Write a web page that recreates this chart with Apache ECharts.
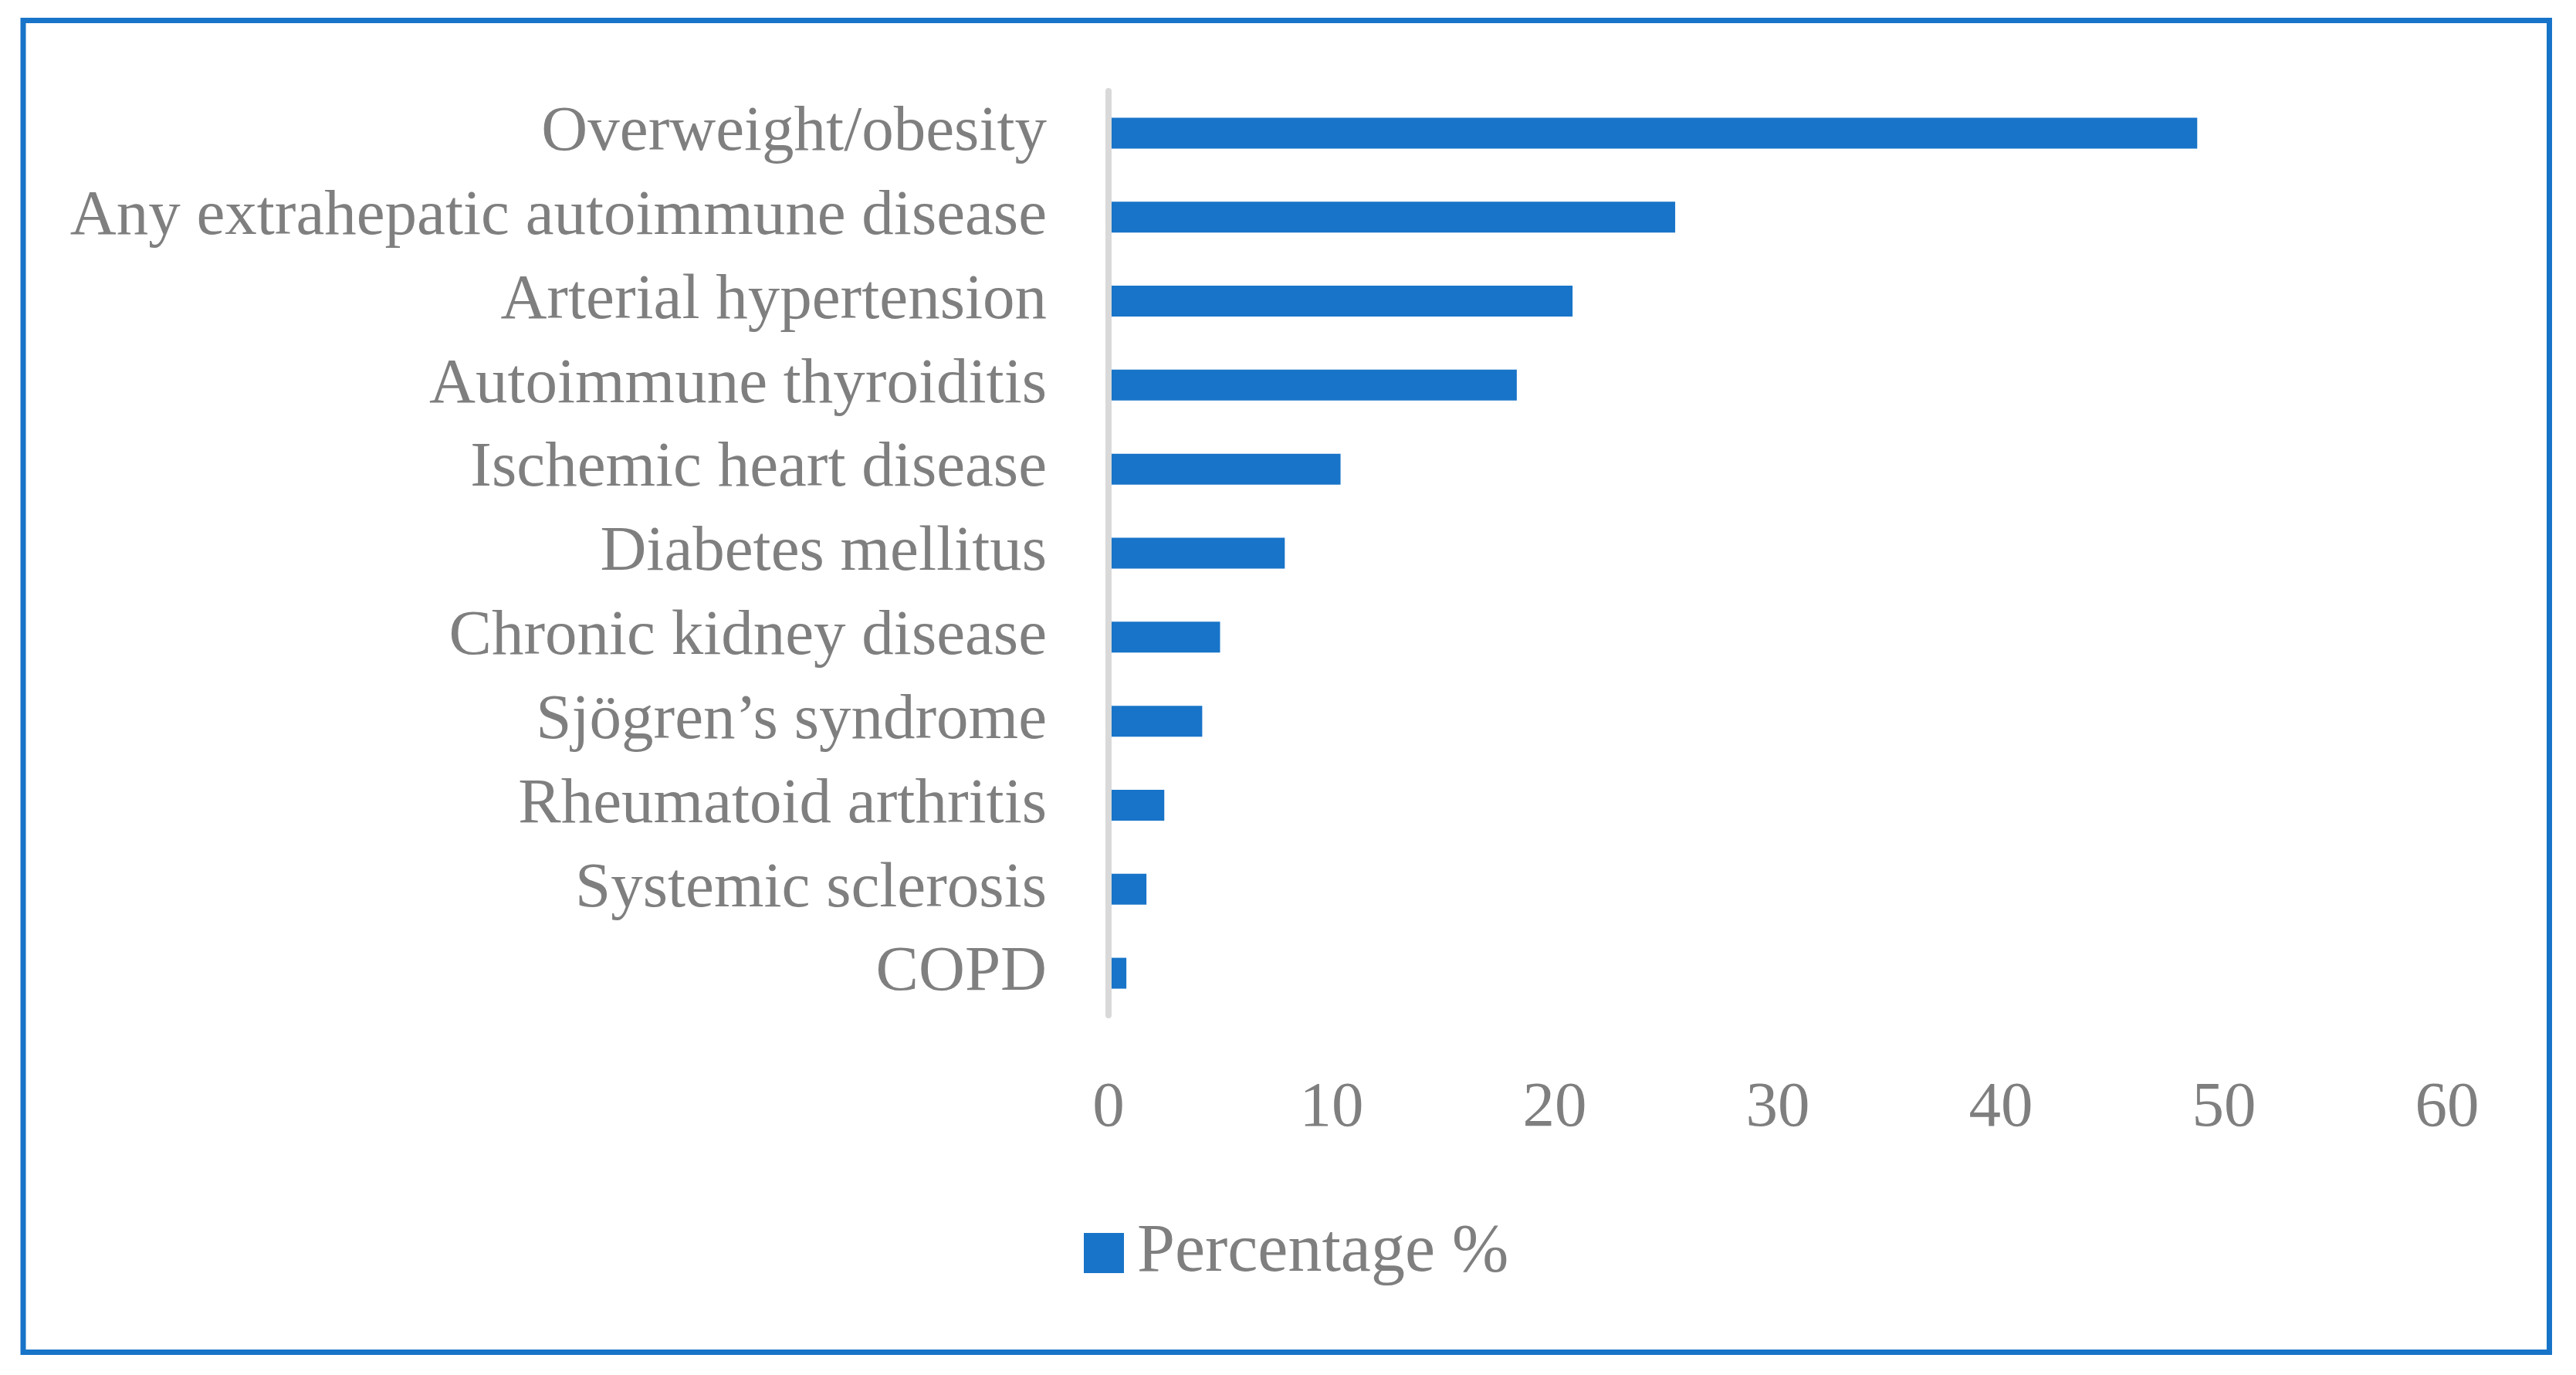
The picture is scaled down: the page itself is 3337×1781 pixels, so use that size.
<!DOCTYPE html>
<html>
<head>
<meta charset="utf-8">
<script src="https://cdn.jsdelivr.net/npm/echarts@6/dist/echarts.min.js"></script>
<style>html,body{margin:0;padding:0;background:#fff;}#c{width:3337px;height:1781px;}</style>
</head>
<body>
<div id="c"></div>
<script>
const categories = [
  "Overweight/obesity",
  "Any extrahepatic autoimmune disease",
  "Arterial hypertension",
  "Autoimmune thyroiditis",
  "Ischemic heart disease",
  "Diabetes mellitus",
  "Chronic kidney disease",
  "Sjögren\u2019s syndrome",
  "Rheumatoid arthritis",
  "Systemic sclerosis",
  "COPD"
];
const percentage = [48.8, 25.4, 20.8, 18.3, 10.4, 7.9, 5.0, 4.2, 2.5, 1.7, 0.8];
const seriesName = "Percentage %";
const xTicks = { min: 0, max: 60, interval: 10 };

const FONT = "'Liberation Serif', 'DejaVu Serif', serif";
const GREY = "#7f7f7f";
const BLUE = "#1874c8";

const chart = echarts.init(document.getElementById('c'), null, { renderer: 'canvas' });
chart.setOption({
  backgroundColor: '#ffffff',
  animation: false,
  graphic: [{
    type: 'rect',
    shape: { x: 30, y: 26.5, width: 3272.5, height: 1725 },
    style: { fill: 'none', stroke: BLUE, lineWidth: 7 },
    z: 10
  }],
  grid: { left: 1436, right: 167, top: 118, bottom: 466, containLabel: false },
  legend: {
    data: [seriesName],
    left: 1399,
    top: 1574,
    itemWidth: 52,
    itemHeight: 52,
    icon: 'rect',
    textStyle: { fontFamily: FONT, fontSize: 88, color: GREY, padding: [0, 0, 0, 12] }
  },
  xAxis: {
    type: 'value',
    min: xTicks.min,
    max: xTicks.max,
    interval: xTicks.interval,
    axisLine: { show: false },
    axisTick: { show: false },
    splitLine: { show: false },
    axisLabel: { fontFamily: FONT, fontSize: 83, color: GREY, margin: 80 }
  },
  yAxis: {
    type: 'category',
    data: categories,
    inverse: true,
    z: 5,
    axisLine: { show: true, lineStyle: { color: '#d9d9d9', width: 8 } },
    axisTick: { show: false },
    splitLine: { show: false },
    axisLabel: { fontFamily: FONT, fontSize: 83, color: GREY, margin: 80 }
  },
  series: [{
    name: seriesName,
    type: 'bar',
    data: percentage,
    barWidth: 40,
    itemStyle: { color: BLUE }
  }]
});
</script>
</body>
</html>
